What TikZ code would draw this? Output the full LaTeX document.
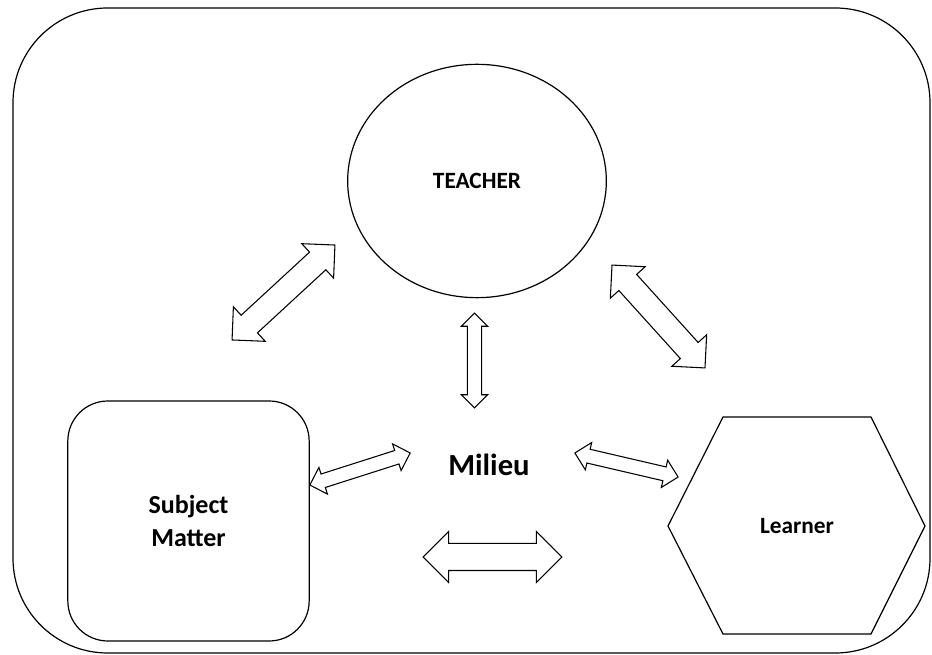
\documentclass[tikz,border=0pt]{standalone}
\usepackage{fontspec}
\setmainfont{Carlito}
\usetikzlibrary{shapes.geometric,shapes.arrows}
\tikzset{
  outline/.style={draw, line width=0.9pt},
  label/.style={font=\bfseries\fontsize{17.5pt}{25pt}\selectfont, align=center, inner sep=0.75pt},
  blockarrow/.style n args={3}{draw, line width=0.8pt, double arrow, inner xsep=0pt,
    inner ysep=#2, minimum height=#1, double arrow head extend=#3},
}
\begin{document}
\begin{tikzpicture}[x=0.75pt,y=0.75pt,yscale=-1,xscale=1]
\useasboundingbox (0,0) rectangle (932,655);
%Shape: Rounded Rectangle (frame)
\draw [outline, rounded corners=71pt] (13,8) rectangle (930,653);

%Shape: Ellipse
\node [outline, ellipse, minimum width=194pt, minimum height=175pt, label] (teacher) at (477,181) {TEACHER};
%Shape: Rounded Rectangle
\node [outline, rounded corners=30pt, minimum width=181pt, minimum height=180pt, label,
  font=\bfseries\fontsize{19.5pt}{25pt}\selectfont] (subject) at (188.5,521) {Subject\\Matter};
%Shape: Hexagon
\draw [outline] (668,526) -- (723,417) -- (871,417) -- (925,526) -- (871,634) -- (723,634) -- cycle ;
% Text Node
\node [label] (learner) at (797,526) {Learner};
% Text Node
\node [label, font=\bfseries\fontsize{23pt}{28pt}\selectfont] (milieu) at (489,465) {Milieu};

%Shape: Left Right Arrow
\node [blockarrow={105pt}{8.6pt}{8.6pt}, rotate=42.7] (arrowts) at (283.5,292.5) {};
\node [blockarrow={104pt}{8.6pt}{8.6pt}, rotate=-47.9] (arrowtl) at (658.5,316.5) {};
\node [blockarrow={71pt}{4.9pt}{4.5pt}, rotate=90] (arrowtm) at (474.5,360.5) {};
\node [blockarrow={79pt}{4.9pt}{5.2pt}, rotate=17.7] (arrowsm) at (360,469) {};
\node [blockarrow={79.5pt}{4.9pt}{5.2pt}, rotate=-13.1] (arrowlm) at (626.5,465) {};
\node [blockarrow={104pt}{9.75pt}{9pt}] (arrowsl) at (492.5,557) {};
\end{tikzpicture}
\end{document}
